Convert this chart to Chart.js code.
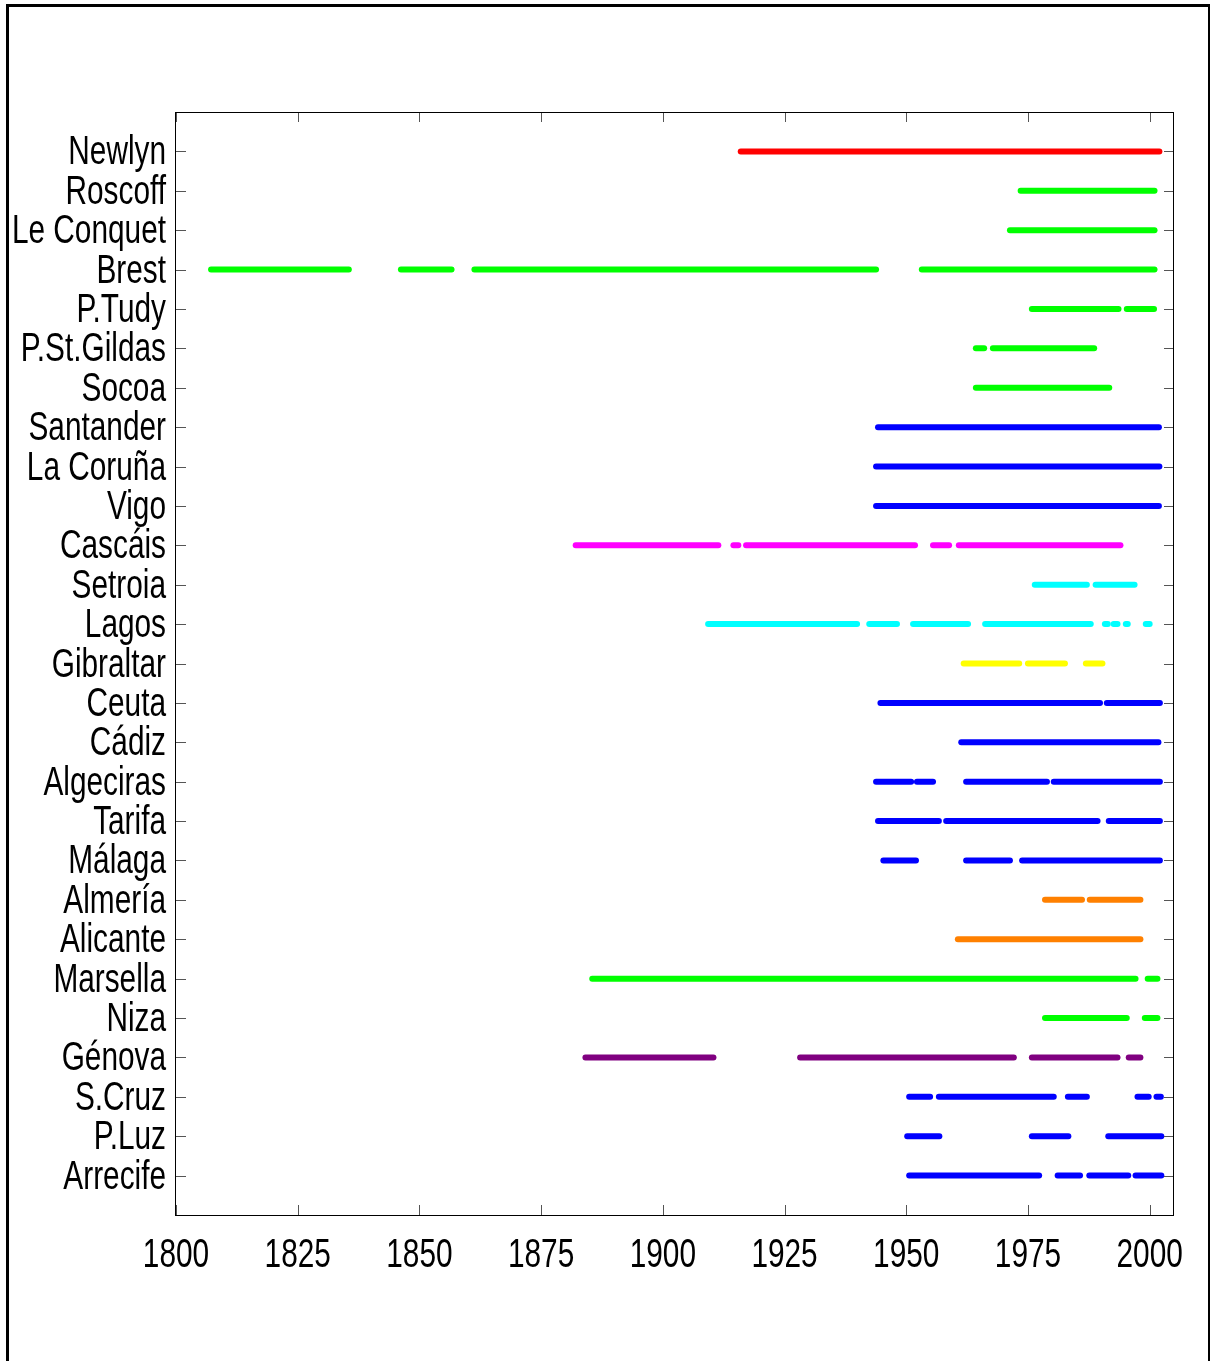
<!DOCTYPE html>
<html>
<head>
<meta charset="utf-8">
<script src="https://cdn.jsdelivr.net/npm/chart.js@4.4.1/dist/chart.umd.min.js"></script>
<style>
  html, body { margin: 0; padding: 0; background: #fff; overflow: hidden; }
  #wrap { position: relative; width: 1210px; height: 1361px; }
  #frame {
    position: absolute; left: 6px; top: 4px; width: 1204px; height: 1400px;
    box-sizing: border-box; border: 3px solid #000; border-right-width: 2px;
    pointer-events: none;
  }
  canvas { position: absolute; left: 0; top: 0; }
</style>
</head>
<body>
<div id="wrap">
  <canvas id="c" width="1210" height="1361"></canvas>
  <div id="frame"></div>
</div>
<script>
// Tide-gauge stations, top to bottom
const stations = [
  'Newlyn', 'Roscoff', 'Le Conquet', 'Brest', 'P.Tudy', 'P.St.Gildas', 'Socoa',
  'Santander', 'La Coruña', 'Vigo', 'Cascáis', 'Setroia', 'Lagos', 'Gibraltar',
  'Ceuta', 'Cádiz', 'Algeciras', 'Tarifa', 'Málaga', 'Almería', 'Alicante',
  'Marsella', 'Niza', 'Génova', 'S.Cruz', 'P.Luz', 'Arrecife'
];

// Line colour of each station row
const rowColors = [
  '#ff0000', '#00ff00', '#00ff00', '#00ff00', '#00ff00', '#00ff00', '#00ff00',
  '#0000ff', '#0000ff', '#0000ff', '#ff00ff', '#00ffff', '#00ffff', '#ffff00',
  '#0000ff', '#0000ff', '#0000ff', '#0000ff', '#0000ff', '#ff8000', '#ff8000',
  '#00ff00', '#00ff00', '#800080', '#0000ff', '#0000ff', '#0000ff'
];

// Periods of record for each station: [first year, last year]
const spans = [
  [[1916.0, 2002.0]],
  [[1973.5, 2001.0]],
  [[1971.3, 2001.0]],
  [[1807.2, 1835.5], [1846.2, 1856.6], [1861.3, 1943.8], [1953.2, 2001.0]],
  [[1975.8, 1993.6], [1995.3, 2000.9]],
  [[1964.3, 1966.0], [1967.8, 1988.6]],
  [[1964.3, 1991.7]],
  [[1944.2, 2001.9]],
  [[1943.8, 2002.0]],
  [[1943.8, 2001.9]],
  [[1882.1, 1911.4], [1914.5, 1915.5], [1917.1, 1951.8], [1955.5, 1958.8], [1960.8, 1994.0]],
  [[1976.4, 1987.1], [1988.9, 1996.9]],
  [[1909.3, 1939.9], [1942.4, 1948.1], [1951.4, 1962.7], [1966.2, 1987.9],
   [1990.8, 1991.4], [1992.6, 1993.4], [1995.1, 1995.5], [1999.2, 2000.0]],
  [[1961.8, 1973.2], [1975.0, 1982.6], [1986.9, 1990.3]],
  [[1944.7, 1989.8], [1991.2, 2002.1]],
  [[1961.3, 2001.8]],
  [[1943.8, 1951.0], [1952.2, 1955.5], [1962.3, 1978.9], [1980.3, 2002.1]],
  [[1944.2, 1956.7], [1958.2, 1989.3], [1991.6, 2002.1]],
  [[1945.3, 1952.0], [1962.3, 1971.3], [1973.8, 2002.1]],
  [[1978.5, 1986.1], [1987.7, 1998.1]],
  [[1960.6, 1998.1]],
  [[1885.5, 1997.1], [1999.6, 2001.6]],
  [[1978.5, 1995.3], [1999.0, 2001.6]],
  [[1884.1, 1910.4], [1928.2, 1972.1], [1975.8, 1993.4], [1995.7, 1998.1]],
  [[1950.6, 1954.9], [1956.7, 1980.3], [1983.2, 1987.1], [1997.5, 1999.8], [2001.4, 2002.3]],
  [[1950.2, 1956.8], [1975.8, 1983.3], [1991.5, 2002.4]],
  [[1950.6, 1977.3], [1981.1, 1985.7], [1987.6, 1995.6], [1997.1, 2002.4]]
];

// Year axis
const yearTicks = [1800, 1825, 1850, 1875, 1900, 1925, 1950, 1975, 2000];
const yearMin = 1800;
const yearMax = 2005;

// Condensed label face: Arial-metric font squeezed horizontally
const labelFamily = "'Liberation Sans', Arial, sans-serif";
const labelSize = 40;
const labelSqueeze = 0.745;

// One line dataset per continuous record period
const datasets = [];
spans.forEach((list, i) => {
  list.forEach(([a, b]) => {
    datasets.push({
      data: [{ x: a, y: i + 1 }, { x: b, y: i + 1 }],
      borderColor: rowColors[i],
      borderWidth: 6,
      borderCapStyle: 'round',
      pointRadius: 0,
      fill: false,
      tension: 0
    });
  });
});

function squeezedText(ctx, text, x, y, align) {
  ctx.save();
  ctx.translate(x, y);
  ctx.scale(labelSqueeze, 1);
  ctx.textAlign = align;
  ctx.textBaseline = 'alphabetic';
  ctx.fillText(text, 0, 0);
  ctx.restore();
}

// Box around the plot area, inward tick marks on all four sides, and axis labels
const boxTicks = {
  id: 'boxTicks',
  afterDraw(chart) {
    const { ctx, chartArea: a, scales } = chart;
    ctx.save();
    ctx.lineWidth = 1;
    ctx.strokeStyle = '#555';
    ctx.beginPath();
    yearTicks.forEach(v => {
      const x = Math.round(scales.x.getPixelForValue(v)) + 0.5;
      ctx.moveTo(x, a.bottom); ctx.lineTo(x, a.bottom - 10);
      ctx.moveTo(x, a.top); ctx.lineTo(x, a.top + 10);
    });
    stations.forEach((s, i) => {
      const y = Math.round(scales.y.getPixelForValue(i + 1)) + 0.5;
      ctx.moveTo(a.left, y); ctx.lineTo(a.left + 10, y);
      ctx.moveTo(a.right, y); ctx.lineTo(a.right - 10, y);
    });
    ctx.stroke();
    ctx.strokeStyle = '#000';
    ctx.strokeRect(Math.round(a.left) - 0.5, Math.round(a.top) + 0.5,
                   Math.round(a.right - a.left), Math.round(a.bottom - a.top));

    ctx.fillStyle = '#000';
    ctx.font = labelSize + 'px ' + labelFamily;
    stations.forEach((s, i) => {
      const y = scales.y.getPixelForValue(i + 1);
      squeezedText(ctx, s, a.left - 10, y + 13, 'right');
    });
    yearTicks.forEach(v => {
      const x = scales.x.getPixelForValue(v);
      squeezedText(ctx, String(v), x, a.bottom + 52, 'center');
    });
    ctx.restore();
  }
};

new Chart(document.getElementById('c'), {
  type: 'line',
  data: { datasets },
  plugins: [boxTicks],
  options: {
    responsive: false,
    animation: false,
    events: [],
    layout: { padding: { top: 112, right: 36, left: 0, bottom: 0 } },
    plugins: { legend: { display: false }, tooltip: { enabled: false } },
    scales: {
      x: {
        type: 'linear',
        min: yearMin,
        max: yearMax,
        afterFit(scale) { scale.height = 146; },
        afterBuildTicks(scale) { scale.ticks = yearTicks.map(v => ({ value: v })); },
        grid: { display: false, drawTicks: false },
        border: { display: false },
        ticks: { display: false }
      },
      y: {
        type: 'linear',
        min: 0,
        max: stations.length + 1,
        reverse: true,
        afterFit(scale) { scale.width = 176; },
        afterBuildTicks(scale) { scale.ticks = stations.map((s, i) => ({ value: i + 1 })); },
        grid: { display: false, drawTicks: false },
        border: { display: false },
        ticks: { display: false }
      }
    }
  }
});
</script>
</body>
</html>
